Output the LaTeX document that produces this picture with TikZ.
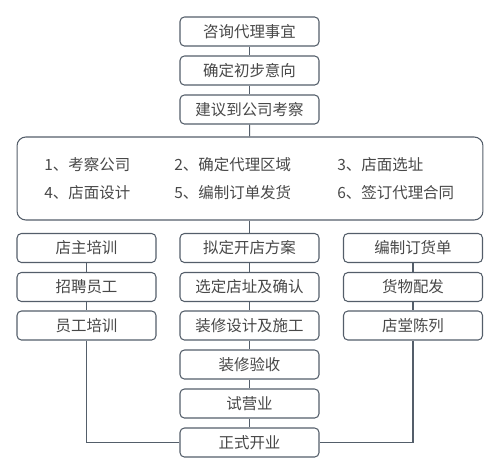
\documentclass[tikz,border=0pt]{standalone}
\usepackage{fontspec}
\setmainfont{Noto Sans CJK SC}
\usepackage{tikz}
\usetikzlibrary{positioning}
\definecolor{lineslate}{RGB}{84,94,106}
\definecolor{textgrey}{RGB}{72,72,72}
\tikzset{
  stepbox/.style={draw=lineslate, line width=0.6pt, rounded corners=2.5pt, fill=white,
    minimum width=2.78cm, minimum height=0.58cm, inner sep=0pt, text=textgrey,
    font=\fontsize{8.8}{10}\selectfont},
  itemtext/.style={anchor=west, inner sep=0pt, text=textgrey, font=\fontsize{8.8}{10}\selectfont},
  link/.style={draw=lineslate, line width=0.6pt}
}
\begin{document}
\begin{tikzpicture}[x=0.02cm, y=-0.02cm]
  \useasboundingbox (0,0) rectangle (500,474);
  % top column
  \node[stepbox] (consult) at (249.5, 31.5) {咨询代理事宜};
  \node[stepbox] (intent) at (249.5, 70.5) {确定初步意向};
  \node[stepbox] (visit) at (249.5, 109.5) {建议到公司考察};
  % overview box
  \node[draw=lineslate, line width=0.6pt, rounded corners=5pt, minimum width=9.32cm,
        minimum height=1.66cm, inner sep=0pt] (plan) at (250, 178.5) {};
  \node[itemtext] (i1) at (44, 165) {1、考察公司};
  \node[itemtext] (i2) at (174, 165) {2、确定代理区域};
  \node[itemtext] (i3) at (337, 165) {3、店面选址};
  \node[itemtext] (i4) at (44, 193) {4、店面设计};
  \node[itemtext] (i5) at (174, 193) {5、编制订单发货};
  \node[itemtext] (i6) at (337, 193) {6、签订代理合同};
  % left column
  \node[stepbox] (ownertrain) at (86.5, 248) {店主培训};
  \node[stepbox] (recruit) at (86.5, 287) {招聘员工};
  \node[stepbox] (stafftrain) at (86.5, 325.5) {员工培训};
  % middle column
  \node[stepbox] (scheme) at (249.5, 248) {拟定开店方案};
  \node[stepbox] (site) at (249.5, 287) {选定店址及确认};
  \node[stepbox] (decor) at (249.5, 325.5) {装修设计及施工};
  \node[stepbox] (accept) at (249.5, 364.5) {装修验收};
  \node[stepbox] (trial) at (249.5, 403.5) {试营业};
  \node[stepbox] (opening) at (249.5, 442.5) {正式开业};
  % right column
  \node[stepbox] (order) at (413, 248) {编制订货单};
  \node[stepbox] (deliver) at (413, 287) {货物配发};
  \node[stepbox] (display) at (413, 325.5) {店堂陈列};

  \draw[link] (consult) -- (intent);
  \draw[link] (intent) -- (visit);
  \draw[link] (visit) -- (plan);
  \draw[link] (plan.south -| scheme) -- (scheme);
  \draw[link] (scheme) -- (site);
  \draw[link] (site) -- (decor);
  \draw[link] (decor) -- (accept);
  \draw[link] (accept) -- (trial);
  \draw[link] (trial) -- (opening);
  \draw[link] (ownertrain) -- (recruit);
  \draw[link] (recruit) -- (stafftrain);
  \draw[link] (stafftrain) |- (opening);
  \draw[link] (order) -- (deliver);
  \draw[link] (deliver) -- (display);
  \draw[link] (display) |- (opening);
\end{tikzpicture}
\end{document}
